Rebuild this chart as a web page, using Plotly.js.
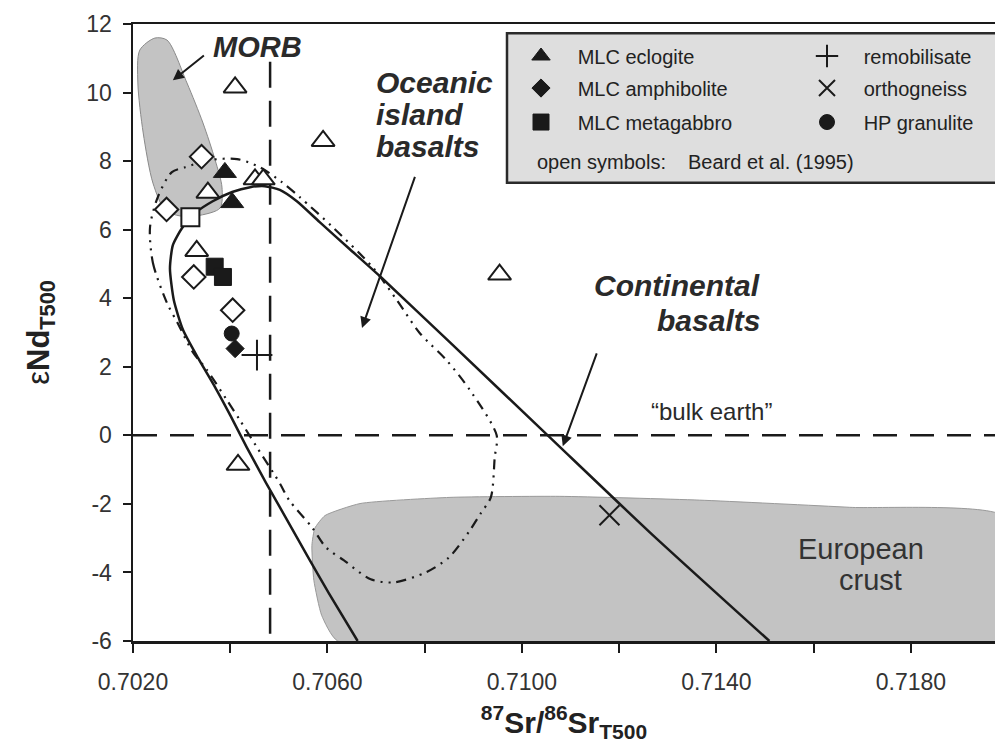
<!DOCTYPE html>
<html>
<head>
<meta charset="utf-8">
<script src="https://cdn.plot.ly/plotly-3.0.1.min.js"></script>
<style>html,body{margin:0;padding:0;background:#fff;}#chart{width:995px;height:750px;}</style>
</head>
<body>
<div id="chart"></div>
<script>
// ---- Data (87Sr/86Sr_T500 vs eNd_T500) ----
const eclogiteSr = [0.70389, 0.70404];
const eclogiteNd = [7.67, 6.79];
const amphiboliteSr = [0.70410];
const amphiboliteNd = [2.53];
const metagabbroSr = [0.70368, 0.70385];
const metagabbroNd = [4.92, 4.62];
const remobilisateSr = [0.70455];
const remobilisateNd = [2.34];
const orthogneissSr = [0.71180];
const orthogneissNd = [-2.33];
const granuliteSr = [0.70403];
const granuliteNd = [2.97];
// open symbols: Beard et al. (1995)
const beardTriSr = [0.70410, 0.70591, 0.70954, 0.70416, 0.70451, 0.70468, 0.70354, 0.70331];
const beardTriNd = [10.15, 8.59, 4.69, -0.86, 7.47, 7.47, 7.08, 5.38];
const beardDiaSr = [0.70341, 0.70269, 0.70325, 0.70405];
const beardDiaNd = [8.13, 6.59, 4.62, 3.65];
const beardSqSr = [0.70318];
const beardSqNd = [6.36];
// fields
const morbSr = [0.70245,0.70214,0.70210,0.70221,0.70241,0.70266,0.70297,0.70338,0.70379,0.70383,0.70369,0.70344,0.70311,0.70270,0.70245];
const morbNd = [11.59,11.24,10.28,8.82,7.36,6.57,6.40,6.42,6.63,7.24,8.03,9.11,10.28,11.53,11.59];
const crustSr = [0.70621,0.70588,0.70572,0.70568,0.70574,0.70595,0.70667,0.70852,0.71078,0.71365,0.71674,0.71990,0.71990,0.70621];
const crustNd = [-6.0,-5.25,-4.23,-3.21,-2.71,-2.34,-1.99,-1.81,-1.78,-1.89,-2.10,-2.36,-6.0,-6.0];
const contSr = [0.70662,0.70603,0.70558,0.70515,0.70473,0.70434,0.70401,0.70369,0.70334,0.70303,0.70284,0.70276,0.70282,0.70301,0.70330,0.70364,0.70404,0.70441,0.70471,0.70502,0.70537,0.70584,0.70646,0.70708,0.70852,0.71053,0.71263,0.71509];
const contNd = [-6.0,-4.61,-3.50,-2.42,-1.37,-0.35,0.56,1.40,2.25,3.07,3.94,4.87,5.55,6.05,6.51,6.83,7.10,7.24,7.27,7.16,6.83,6.22,5.43,4.64,2.71,0.0,-2.83,-6.0];
const oibSr = [0.70235,0.70241,0.70270,0.70292,0.70323,0.70352,0.70393,0.70420,0.70455,0.70502,0.70521,0.70568,0.70597,0.70634,0.70689,0.70736,0.70802,0.70850,0.70893,0.70915,0.70936,0.70944,0.70948,0.70893,0.70845,0.70790,0.70743,0.70693,0.70611,0.70543,0.70506,0.70461,0.70414,0.70358,0.70307,0.70280,0.70251,0.70235];
const oibNd = [6.07,5.03,3.86,3.27,2.43,1.91,1.03,0.44,-0.35,-1.40,-1.89,-2.68,-3.27,-3.65,-4.20,-4.29,-4.00,-3.56,-2.77,-2.28,-1.81,-0.64,0.0,1.32,2.19,2.98,3.94,4.90,6.07,6.95,7.39,7.82,8.06,8.03,7.82,7.68,6.95,6.07];
// reference lines
const bulkEarthSr = [0.7020, 0.7200];
const bulkEarthNd = [0, 0];
const refSr = [0.70482, 0.70482];
const refNd = [10.9, -6];
// axes
const xRange = [0.7020, 0.71973];
const yRange = [-6, 12];
const yTickVals = [-6, -4, -2, 0, 2, 4, 6, 8, 10, 12];
const yTickText = ['-6', '-4', '-2', '0', '2', '4', '6', '8', '10', '12'];

const FONT = 'Liberation Sans, Arial, Helvetica, sans-serif';
const INK = '#1a1a1a';

function pts(sr, nd, name, symbol, size, fill, legend, lineW) {
  return {
    x: sr, y: nd, type: 'scatter', mode: 'markers', name: name,
    showlegend: !!legend, legend: legend || 'legend',
    marker: {symbol: symbol, size: size, color: fill, line: {color: INK, width: lineW}},
    hoverinfo: 'skip'
  };
}

const traces = [
  {x: morbSr, y: morbNd, type: 'scatter', mode: 'lines', fill: 'toself', fillcolor: '#c3c3c3',
   line: {color: '#8a8a8a', width: 1, shape: 'spline', smoothing: 0.8}, showlegend: false, hoverinfo: 'skip'},
  {x: crustSr, y: crustNd, type: 'scatter', mode: 'lines', fill: 'toself', fillcolor: '#c3c3c3',
   line: {color: '#9a9a9a', width: 1, shape: 'spline', smoothing: 0.5}, showlegend: false, hoverinfo: 'skip'},
  {x: bulkEarthSr, y: bulkEarthNd, type: 'scatter', mode: 'lines',
   line: {color: INK, width: 2.5, dash: '24px,13px'}, showlegend: false, hoverinfo: 'skip'},
  {x: refSr, y: refNd, type: 'scatter', mode: 'lines',
   line: {color: INK, width: 2.5, dash: '26px,13px'}, showlegend: false, hoverinfo: 'skip'},
  {x: oibSr, y: oibNd, type: 'scatter', mode: 'lines',
   line: {color: INK, width: 2.2, dash: '10px,6px,2px,6px,2px,6px', shape: 'spline', smoothing: 0.8}, showlegend: false, hoverinfo: 'skip'},
  {x: contSr, y: contNd, type: 'scatter', mode: 'lines',
   line: {color: INK, width: 2.5, shape: 'spline', smoothing: 0.6}, showlegend: false, hoverinfo: 'skip'},
  pts(beardTriSr, beardTriNd, 'Beard tri', 'triangle-up', 20, '#ffffff', null, 2),
  pts(beardDiaSr, beardDiaNd, 'Beard dia', 'diamond', 18, '#ffffff', null, 2),
  pts(beardSqSr, beardSqNd, 'Beard sq', 'square', 18, '#ffffff', null, 2),
  pts(eclogiteSr, eclogiteNd, '\u00A0\u00A0\u00A0MLC eclogite', 'triangle-up', 20, INK, 'legend', 1),
  pts(amphiboliteSr, amphiboliteNd, '\u00A0\u00A0\u00A0MLC amphibolite', 'diamond', 14, INK, 'legend2', 1),
  pts(metagabbroSr, metagabbroNd, '\u00A0\u00A0\u00A0MLC metagabbro', 'square', 17, INK, 'legend3', 1),
  pts(remobilisateSr, remobilisateNd, '\u00A0\u00A0\u00A0remobilisate', 'cross-thin-open', 22, INK, 'legend4', 2),
  pts(orthogneissSr, orthogneissNd, '\u00A0\u00A0\u00A0orthogneiss', 'x-thin-open', 20, INK, 'legend5', 2),
  pts(granuliteSr, granuliteNd, '\u00A0\u00A0\u00A0HP granulite', 'circle', 15, INK, 'legend6', 1)
];

function px2x(px) { return (px - 133) / 862; }
function px2y(py) { return (640.7 - py) / 616.7; }

function leg(xp, yp) {
  return {x: px2x(xp), y: px2y(yp), xanchor: 'left', yanchor: 'middle', bgcolor: 'rgba(0,0,0,0)',
          borderwidth: 0, font: {family: FONT, size: 20, color: '#222'}, orientation: 'v'};
}

const ann = [];
function txt(x, y, text, size, opts) {
  ann.push(Object.assign({x: x, y: y, xref: 'x', yref: 'y', text: text, showarrow: false,
    font: {family: FONT, size: size, color: '#2a2a2a'}}, opts || {}));
}
function arrow(tx, ty, hx, hy) {
  ann.push({x: hx, y: hy, ax: tx, ay: ty, xref: 'x', yref: 'y', axref: 'x', ayref: 'y', text: ' ',
    showarrow: true, arrowhead: 2, arrowsize: 1.1, arrowwidth: 2, arrowcolor: INK, standoff: 0});
}
txt(0.70457, 11.33, '<b><i>MORB</i></b>', 29);
txt(0.70695, 10.30, '<b><i>Oceanic</i></b>', 30, {xanchor: 'left'});
txt(0.70695, 9.37, '<b><i>island</i></b>', 30, {xanchor: 'left'});
txt(0.70695, 8.44, '<b><i>basalts</i></b>', 30, {xanchor: 'left'});
txt(0.71493, 4.38, '<b><i>Continental</i></b>', 30, {xanchor: 'right'});
txt(0.71493, 3.36, '<b><i>basalts</i></b>', 30, {xanchor: 'right'});
txt(0.71390, 0.70, '\u201Cbulk earth\u201D', 24);
txt(0.71698, -3.32, 'European', 29, {font: {family: FONT, size: 29, color: '#333'}});
txt(0.71717, -4.23, 'crust', 29, {font: {family: FONT, size: 29, color: '#333'}});
arrow(0.70352, 11.15, 0.70282, 10.36);
arrow(0.70786, 7.79, 0.70671, 3.13);
arrow(0.71160, 2.63, 0.71084, -0.32);
// legend footnote
ann.push({xref: 'paper', yref: 'paper', x: px2x(535), y: px2y(162), xanchor: 'left', yanchor: 'middle',
  text: 'open symbols:', showarrow: false, font: {family: FONT, size: 20, color: '#222'}});
ann.push({xref: 'paper', yref: 'paper', x: px2x(686), y: px2y(162), xanchor: 'left', yanchor: 'middle',
  text: 'Beard et al. (1995)', showarrow: false, font: {family: FONT, size: 20, color: '#222'}});

const layout = {
  width: 995, height: 750,
  margin: {l: 133, r: 0, t: 24, b: 109, pad: 0},
  paper_bgcolor: '#ffffff', plot_bgcolor: '#ffffff',
  font: {family: FONT, color: '#333'},
  xaxis: {
    range: xRange, showgrid: false, zeroline: false, showline: true, linecolor: INK, linewidth: 2.5,
    mirror: true, ticks: 'outside', ticklen: 9, tickwidth: 2, tickcolor: INK,
    tick0: 0.7020, dtick: 0.004, tickformat: '.4f', ticklabelstandoff: 10,
    tickfont: {family: FONT, size: 23, color: '#333'},
    minor: {dtick: 0.002, tick0: 0.7020, ticks: 'outside', ticklen: 9, tickwidth: 2, tickcolor: INK, showgrid: false},
    title: {text: '<b><sup>87</sup>Sr/<sup>86</sup>Sr<sub>T500</sub></b>', standoff: 18,
            font: {family: FONT, size: 30, color: '#222'}}
  },
  yaxis: {
    range: yRange, showgrid: false, zeroline: false, showline: true, linecolor: INK, linewidth: 2.5,
    mirror: false, ticks: 'outside', ticklen: 8, tickwidth: 2, tickcolor: INK,
    tickvals: yTickVals, ticktext: yTickText, ticklabelstandoff: 6,
    tickfont: {family: FONT, size: 23, color: '#333'},
    title: {text: '\u03B5<b>Nd<sub>T500</sub></b>', standoff: 28,
            font: {family: FONT, size: 31, color: '#222'}}
  },
  shapes: [{type: 'rect', xref: 'paper', yref: 'paper', x0: px2x(507), x1: 1.02, y0: px2y(182.7), y1: px2y(33.3),
            fillcolor: '#dedede', line: {color: '#2a2a2a', width: 2.5}, layer: 'above'}],
  legend: leg(521, 56),
  legend2: leg(521, 88),
  legend3: leg(521, 122),
  legend4: leg(807, 56),
  legend5: leg(807, 88),
  legend6: leg(807, 122),
  annotations: ann
};

Plotly.newPlot('chart', traces, layout, {displayModeBar: false, staticPlot: true});
</script>
</body>
</html>
